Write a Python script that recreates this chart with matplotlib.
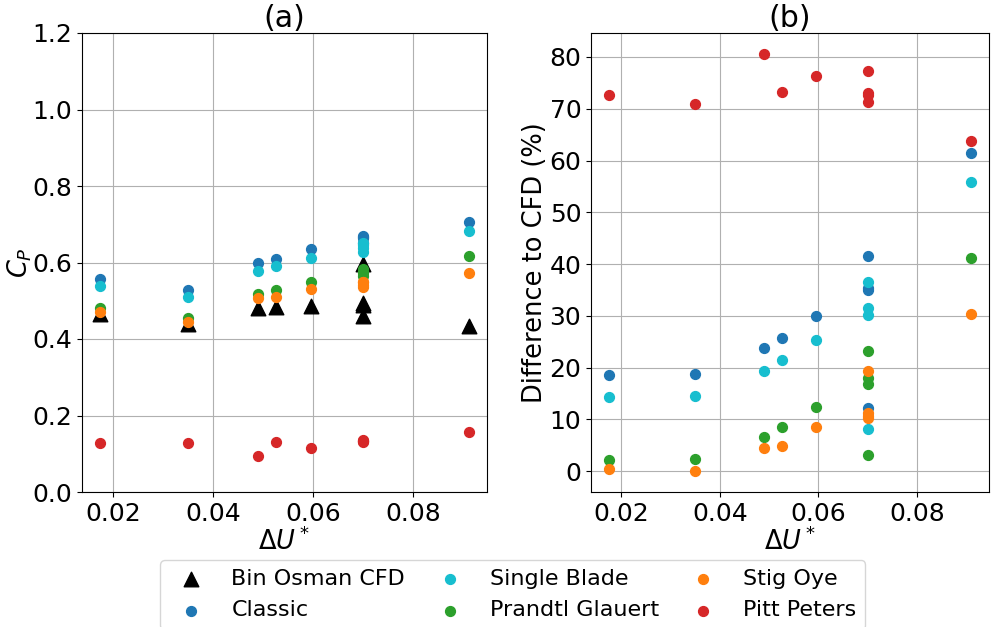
import numpy as np
import matplotlib
matplotlib.use('Agg')
import matplotlib.pyplot as plt

# Non-dimensional velocity deficit for each case
delta_u = [0.0175, 0.035, 0.049, 0.0526, 0.0596, 0.070, 0.070, 0.070, 0.070, 0.091]

# Power coefficient per model
cp_cfd = [0.466, 0.440, 0.481, 0.483, 0.487, 0.596, 0.494, 0.490, 0.459, 0.435]
cp_classic = [0.558, 0.529, 0.600, 0.610, 0.634, 0.669, 0.667, 0.663, 0.650, 0.706]
cp_single = [0.539, 0.509, 0.578, 0.590, 0.612, 0.645, 0.650, 0.638, 0.627, 0.682]
cp_prandtl = [0.481, 0.456, 0.517, 0.529, 0.548, 0.577, 0.582, 0.572, 0.565, 0.618]
cp_stig = [0.470, 0.445, 0.507, 0.510, 0.530, 0.536, 0.550, 0.542, 0.548, 0.572]
cp_pitt = [0.129, 0.129, 0.093, 0.131, 0.115, 0.135, 0.133, 0.133, 0.132, 0.158]

# Difference to CFD (%)
diff_classic = [18.5, 18.7, 23.7, 25.8, 29.9, 12.2, 34.9, 35.3, 41.6, 61.4]
diff_single = [14.4, 14.6, 19.4, 21.4, 25.4, 8.2, 31.5, 30.2, 36.5, 55.9]
diff_prandtl = [2.1, 2.3, 6.6, 8.6, 12.3, 3.2, 17.9, 16.8, 23.2, 41.1]
diff_stig = [0.5, 0.0, 4.5, 4.9, 8.6, 10.2, 11.3, 10.6, 19.4, 30.3]
diff_pitt = [72.6, 71.0, 80.6, 73.2, 76.4, 77.3, 73.0, 72.7, 71.3, 63.7]

model_names = ['Classic', 'Single Blade', 'Prandtl Glauert', 'Stig Oye', 'Pitt Peters']
model_colors = ['tab:blue', 'tab:cyan', 'tab:green', 'tab:orange', 'tab:red']

plt.rcParams['font.size'] = 18
plt.rcParams['axes.labelsize'] = 18.5

fig = plt.figure(figsize=(9.92, 6.27), dpi=100)
ax1 = fig.add_axes([82 / 992, 1 - 492 / 627, 405 / 992, 459 / 627])
ax2 = fig.add_axes([591 / 992, 1 - 492 / 627, 398 / 992, 459 / 627])

# Panel (a) - power coefficient
ax1.scatter(delta_u, cp_cfd, marker='^', color='black', s=110, label='Bin Osman CFD', zorder=3)
cp_models = [cp_classic, cp_single, cp_prandtl, cp_stig, cp_pitt]
for vals, name, col in zip(cp_models, model_names, model_colors):
    ax1.scatter(delta_u, vals, color=col, s=50, label=name, zorder=3)
ax1.set_ylim(0, 1.2)
ax1.set_yticks(np.arange(0, 1.21, 0.2))
ax1.set_ylabel('$C_P$', labelpad=-1)
ax1.set_xlabel('$\\Delta U^*$', labelpad=1)
ax1.set_title('(a)', pad=4)
ax1.grid(True)
ax1.set_axisbelow(True)

# Panel (b) - difference to CFD
diff_models = [diff_classic, diff_single, diff_prandtl, diff_stig, diff_pitt]
for vals, name, col in zip(diff_models, model_names, model_colors):
    ax2.scatter(delta_u, vals, color=col, s=50, zorder=3)
ax2.set_ylabel('Difference to CFD (%)', labelpad=1)
ax2.set_xlabel('$\\Delta U^*$', labelpad=1)
ax2.set_title('(b)', pad=4)
ax2.grid(True)
ax2.set_axisbelow(True)

for ax in (ax1, ax2):
    ax.set_xticks([0.02, 0.04, 0.06, 0.08])

handles, labels = ax1.get_legend_handles_labels()
fig.legend(handles, labels, loc='upper center', bbox_to_anchor=(0.517, 0.124),
           ncol=3, fontsize=16, columnspacing=1.0)

fig.savefig('out.png', dpi=100)
